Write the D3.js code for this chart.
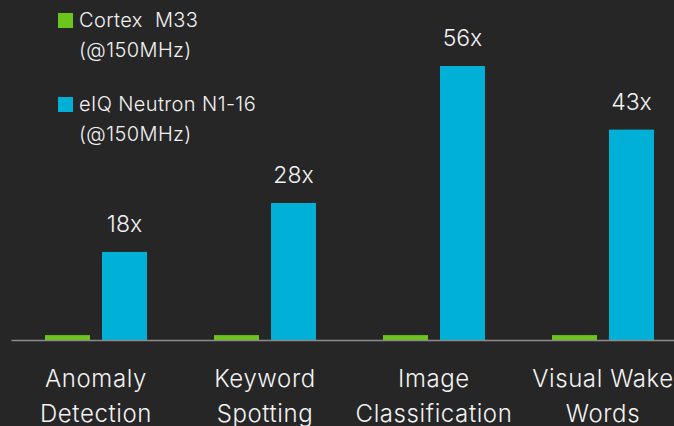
<!DOCTYPE html>
<html>
<head>
<meta charset="utf-8">
<script src="https://cdn.jsdelivr.net/npm/d3@7"></script>
<style>
  html, body { margin: 0; padding: 0; background: #262626; }
  svg { display: block; font-family: "Inter", "DejaVu Sans", sans-serif; }
  text { white-space: pre; }
</style>
</head>
<body>
<div id="chart"></div>
<script>
// chart data
const categories = [["Anomaly", "Detection"], ["Keyword", "Spotting"], ["Image", "Classification"], ["Visual Wake", "Words"]];
const seriesNames = [["Cortex  M33", "(@150MHz)"], ["eIQ Neutron N1-16", "(@150MHz)"]];
const m33Values = [1, 1, 1, 1];
const neutronValues = [18, 28, 56, 43];
const valueLabels = ["18x", "28x", "56x", "43x"];
const seriesColors = ["#6cc51b", "#00b0d6"];

const width = 674, height = 426;
const baseY = 340;

const svg = d3.select("#chart").append("svg")
    .attr("width", width)
    .attr("height", height);

svg.append("rect").attr("width", width).attr("height", height).attr("fill", "#262626");

const x0 = d3.scaleBand()
    .domain(d3.range(categories.length))
    .range([11.5, 687.5])
    .paddingInner(0)
    .paddingOuter(0);

const groupWidth = 102;
const x1 = d3.scaleBand()
    .domain([0, 1])
    .range([(x0.bandwidth() - groupWidth) / 2, (x0.bandwidth() + groupWidth) / 2])
    .paddingInner(12 / 57);

const y = d3.scaleLinear().domain([0, 56]).range([baseY, 66]);

const rows = categories.map((c, i) => ({i, vals: [m33Values[i], neutronValues[i]], label: valueLabels[i]}));

const g = svg.selectAll(".grp")
    .data(rows)
    .enter().append("g")
    .attr("class", "grp")
    .attr("transform", d => `translate(${x0(d.i)},0)`);

g.selectAll("rect")
    .data(d => d.vals.map((v, s) => ({v, s})))
    .enter().append("rect")
    .attr("x", d => x1(d.s))
    .attr("y", d => y(d.v))
    .attr("width", x1.bandwidth())
    .attr("height", d => baseY - y(d.v))
    .attr("fill", d => seriesColors[d.s]);

// value labels above the blue bars
g.append("text")
    .attr("x", x1(1) + x1.bandwidth() / 2)
    .attr("y", d => y(d.vals[1]) - 20)
    .attr("text-anchor", "middle")
    .attr("fill", "#f2f2f2")
    .style("font-size", "23px")
    .style("font-weight", 300)
    .text(d => d.label);

// axis line
svg.append("line")
    .attr("x1", 11.5).attr("x2", width)
    .attr("y1", baseY + 0.5).attr("y2", baseY + 0.5)
    .attr("stroke", "#8c8c8c")
    .attr("stroke-width", 1.5);

// category labels (two lines)
g.append("text")
    .attr("text-anchor", "middle")
    .attr("fill", "#f2f2f2")
    .style("font-size", "24px")
    .style("font-weight", 300)
    .style("letter-spacing", "0.6px")
    .selectAll("tspan")
    .data(d => categories[d.i])
    .enter().append("tspan")
    .attr("x", x0.bandwidth() / 2)
    .attr("y", (d, k) => 387 + k * 35)
    .text(d => d);

// legend
const legend = svg.append("g");
const legendY = [13, 97];
seriesNames.forEach((name, s) => {
    legend.append("rect")
        .attr("x", 58).attr("y", legendY[s])
        .attr("width", 15).attr("height", 15)
        .attr("fill", seriesColors[s]);
    legend.append("text")
        .attr("fill", "#f2f2f2")
        .style("font-size", "20px")
        .style("font-weight", 300)
        .style("letter-spacing", "0.4px")
        .selectAll("tspan")
        .data(name)
        .enter().append("tspan")
        .attr("x", 79)
        .attr("y", (d, k) => legendY[s] + 14 + k * 30)
        .text(d => d);
});
</script>
</body>
</html>
